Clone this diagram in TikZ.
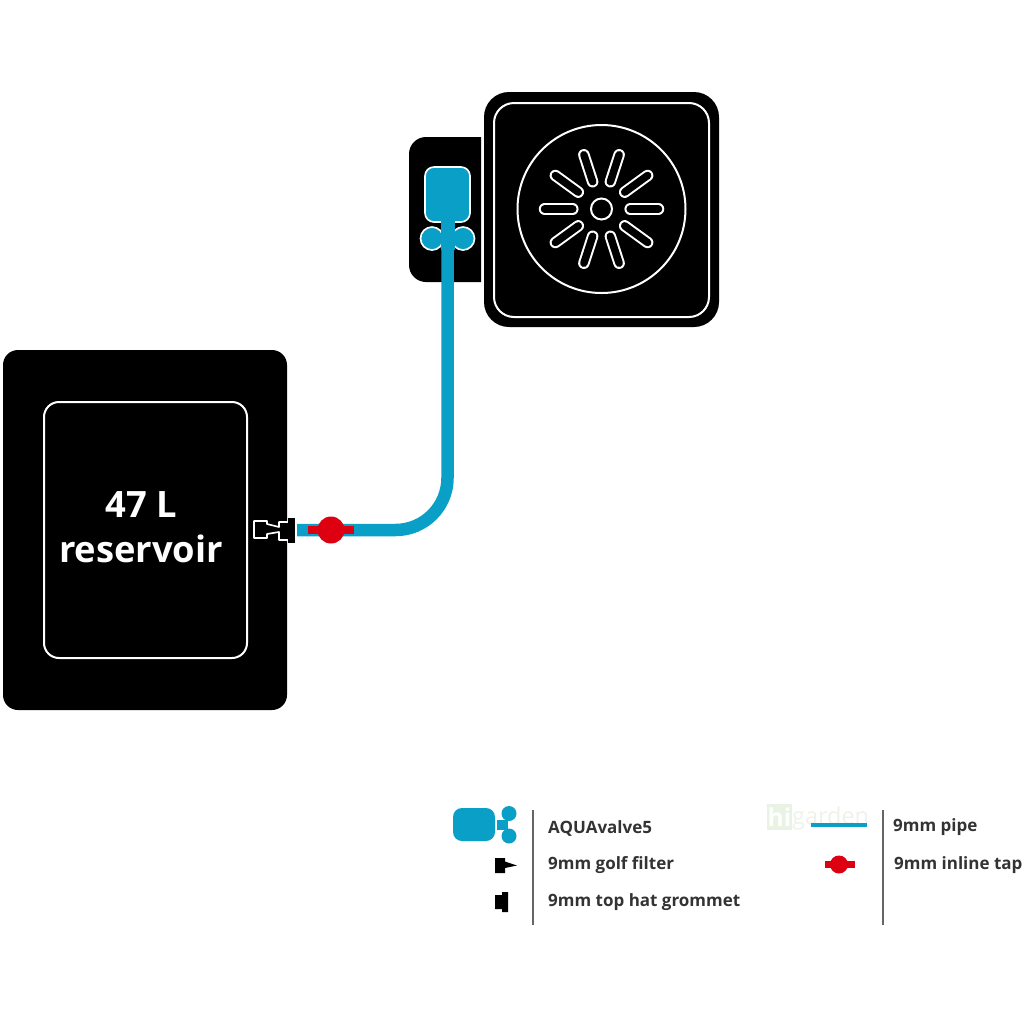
\documentclass[tikz,border=0pt]{standalone}
\usepackage{fontspec}
\usetikzlibrary{calc}
\setmainfont{Open Sans}
\definecolor{pipeblue}{HTML}{0A9FC6}
\definecolor{tapred}{HTML}{DD0011}
\definecolor{legtext}{HTML}{333333}
\definecolor{wmgreen}{HTML}{E9F3E4}
\definecolor{wmtext}{HTML}{EDF2EA}
\tikzset{
  x=0.03cm,y=-0.03cm,
  blackbox/.style={fill=black,draw=none},
  whiteline/.style={draw=white,line width=0.06cm},
  pipe/.style={draw=pipeblue,line width=0.375cm},
  legtxt/.style={anchor=west,inner sep=0pt,text=legtext,font=\fontsize{14.5pt}{18pt}\selectfont\bfseries},
  bigtxt/.style={text=white,inner sep=0pt,font=\fontsize{31pt}{36pt}\selectfont\bfseries},
  rule/.style={draw=black!60,line width=0.05cm},
  redfill/.style={fill=tapred,draw=none},
  bluefill/.style={fill=pipeblue,draw=none}
}
\begin{document}
\begin{tikzpicture}
\useasboundingbox (0,0) rectangle (1024,1024);
% reservoir
\path[blackbox,rounded corners=0.45cm] (3,350) rectangle (287,710);
\path[whiteline,rounded corners=0.45cm] (44,402) rectangle (247,658);
\node[bigtxt] (l1) at (141,505) {47 L};
\node[bigtxt] (l2) at (141,549) {reservoir};
% tray
\path[blackbox] (481,137) -- (426,137) arc[start angle=90,end angle=180,radius=17*0.03cm] -- (409,265) arc[start angle=180,end angle=270,radius=17*0.03cm] -- (481,282) -- cycle;
\path[blackbox,rounded corners=0.75cm] (484,92) rectangle (719,327);
\path[whiteline,rounded corners=0.6cm] (494,103) rectangle (709,317);
\coordinate (c) at (601.5,209);
\draw[whiteline] (c) circle[radius=84*0.03cm];
\draw[whiteline] (c) circle[radius=10.5*0.03cm];
\foreach \a in {0,36,...,324}{
  \draw[white,line width=0.345cm,line cap=round] ($(c)+(\a:0.86cm)$) -- ($(c)+(\a:1.71cm)$);
  \draw[black,line width=0.225cm,line cap=round] ($(c)+(\a:0.86cm)$) -- ($(c)+(\a:1.71cm)$);
}
% valve
\path[bluefill,draw=white,line width=0.05cm,rounded corners=0.27cm] (425,167) rectangle (470,222);
\path[bluefill,draw=white,line width=0.05cm] (432,238.5) circle[radius=11.5*0.03cm];
\path[bluefill,draw=white,line width=0.05cm] (463,238.5) circle[radius=11.5*0.03cm];
\path[bluefill] (441,219) rectangle (455,250);
% pipe
\coordinate (ps) at (447.5,225);
\coordinate (pe) at (297,530);
\draw[pipe] (ps) -- (447.5,478) arc[start angle=0,end angle=-90,radius=52*0.03cm] -- (pe);
% fittings
\path[blackbox,draw=white,line width=0.05cm,line join=round] (279,522) -- (290,522) -- (290,540) -- (279,540) -- (279,532) -- (267,534) -- (267,538) -- (254,538) -- (254,521) -- (267,521) -- (267,524) -- (279,527) -- cycle;
\path[blackbox] (288,518) -- (295,518) -- (295,543) -- (288,543) -- cycle;
\path[redfill] (308,526) rectangle (354,534);
\path[redfill] (331,530) circle[radius=13.5*0.03cm];
% legend left
\path[bluefill,rounded corners=0.27cm] (453,808) rectangle (495,841);
\path[bluefill] (497,820) rectangle (508,830);
\path[bluefill] (509,813.5) circle[radius=7.5*0.03cm];
\path[bluefill] (509,836) circle[radius=7.5*0.03cm];
\path[blackbox] (495,858) -- (505,858) -- (505,861.5) -- (517,865.5) -- (505,868) -- (505,873) -- (495,873) -- cycle;
\path[blackbox] (495,895) -- (502,895) -- (502,892) -- (508,892) -- (508,912) -- (502,912) -- (502,909) -- (495,909) -- cycle;
\draw[rule] (533,810) -- (533,925);
\node[legtxt] (t1) at (548,828.5) {AQUAvalve5};
\node[legtxt] (t2) at (548,865.5) {9mm golf filter};
\node[legtxt] (t3) at (548,902.5) {9mm top hat grommet};
% watermark
\path[fill=wmgreen] (767,804) rectangle (792,830);
\node[text=white,inner sep=0pt,font=\fontsize{21pt}{22pt}\selectfont\bfseries] (wh) at (779.5,817) {hi};
\node[anchor=west,inner sep=0pt,text=wmtext,font=\fontsize{20pt}{22pt}\selectfont] (wg) at (792,818) {garden};
% legend right
\draw[draw=pipeblue,line width=0.12cm] (811,825) -- (867,825);
\path[redfill] (825,861) rectangle (855,868);
\path[redfill] (839,864.5) circle[radius=9*0.03cm];
\draw[rule] (883,810) -- (883,925);
\node[legtxt] (t4) at (893,827.5) {9mm pipe};
\node[legtxt] (t5) at (894,865.5) {9mm inline tap};
\end{tikzpicture}
\end{document}
